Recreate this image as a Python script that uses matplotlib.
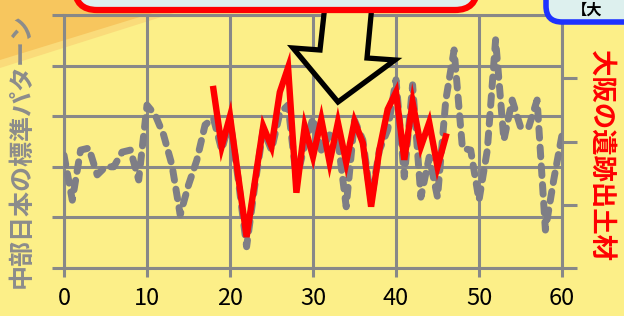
import matplotlib
matplotlib.use("Agg")
import matplotlib.pyplot as plt
from matplotlib.patches import Polygon, FancyBboxPatch

plt.rcParams['font.family'] = ['Noto Sans CJK JP', 'DejaVu Sans']

# ---- data ----
gray_years = list(range(0, 61))
gray_values = [2.23, 1.34, 2.33, 2.37, 1.84, 2.00, 2.00, 2.29, 2.33, 1.74,
               3.22, 3.02, 2.63, 2.04, 1.05, 1.64, 2.13, 2.83, 2.96, 2.33,
               2.92, 1.74, 0.42, 1.64, 2.73, 2.33, 3.06, 3.22, 1.74, 2.43,
               2.96, 2.33, 2.63, 2.53, 1.21, 2.92, 2.53, 1.34, 2.33, 2.73,
               3.72, 1.80, 3.62, 1.40, 2.19, 1.40, 3.32, 4.31, 2.37, 2.33,
               1.34, 2.33, 4.51, 2.53, 3.32, 2.79, 2.79, 3.32, 0.75, 1.74,
               2.63]
red_years = list(range(18, 47))
red_values = [2.83, 1.92, 2.40, 1.44, 0.49, 1.37, 2.24, 1.92, 2.78, 3.17,
              1.19, 2.24, 1.76, 2.35, 1.67, 2.30, 1.67, 2.32, 1.98, 0.97,
              1.87, 2.51, 2.78, 1.71, 2.62, 1.92, 2.30, 1.60, 2.08]
x_ticks = [0, 10, 20, 30, 40, 50, 60]
left_ticks = [0, 1, 2, 3, 4, 5]
right_ticks = [0, 1, 2, 3, 4]
left_label = "中部日本の標準パターン"
right_label = "大阪の遺跡出土材"

W, H = 624, 316
YELLOW = '#FCEF88'
GRID = '#888888'
GRAY_LINE = '#7E7E86'

fig = plt.figure(figsize=(W / 100, H / 100), dpi=100)
fig.patch.set_facecolor(YELLOW)

# background decoration axes (pixel coords)
bg = fig.add_axes([0, 0, 1, 1], zorder=-5)
bg.set_xlim(0, W)
bg.set_ylim(H, 0)
bg.axis('off')
bg.add_patch(Polygon([(0, 0), (215, 0), (0, 68)], closed=True,
                     facecolor='#FADB7A', edgecolor='none'))
bg.add_patch(Polygon([(0, 0), (195, 0), (0, 60)], closed=True,
                     facecolor='#F7C65E', edgecolor='none'))

# main axes
ax = fig.add_axes([64 / W, 1 - 268 / H, (562 - 64) / W, (268 - 15) / H], zorder=1)
ax.patch.set_visible(False)
ax.set_xlim(0, 60)
ax.set_ylim(0, 5)
ax.set_xticks(x_ticks)
ax.set_yticks(left_ticks)
ax.set_yticklabels([])
ax.grid(True, color=GRID, lw=2.2)
for s in ax.spines.values():
    s.set_color(GRID)
    s.set_linewidth(2.2)
ax.tick_params(axis='x', length=6.5, width=2.2, color=GRID, labelsize=17,
               labelcolor='black', pad=7)
ax.tick_params(axis='y', length=8.6, width=2.2, color=GRID)
ax.set_axisbelow(True)

ax.plot(gray_years, gray_values, color=GRAY_LINE, lw=5, dashes=(1.4, 1.3),
        dash_capstyle='round', solid_joinstyle='round', zorder=3)

ax2 = ax.twinx()
ax2.set_ylim(0, 4)
ax2.set_yticks(right_ticks)
ax2.set_yticklabels([])
for s in ax2.spines.values():
    s.set_visible(False)
ax2.tick_params(axis='y', length=10.8, width=2.2, color=GRID)
ax2.plot(red_years, red_values, color='#FF0000', lw=4.6,
         solid_joinstyle='miter', zorder=4)

fig.text(22 / W, 1 - 150 / H, left_label, rotation=90, ha='center', va='center',
         fontsize=18, fontweight='bold', color='#8C8C8C')
fig.text(600 / W, 1 - 155 / H, right_label, rotation=-90, ha='center', va='center',
         fontsize=19, fontweight='bold', color='#FF0000')

# overlay decorations (pixel coords)
ov = fig.add_axes([0, 0, 1, 1], zorder=10)
ov.set_xlim(0, W)
ov.set_ylim(H, 0)
ov.axis('off')
ov.patch.set_visible(False)
ov.add_patch(Polygon([(325, 5), (320, 50), (293, 48), (338, 102), (395, 60),
                      (367, 58), (372, 5)], closed=True, facecolor=YELLOW,
                     edgecolor='black', lw=3.8, joinstyle='miter'))
ov.add_patch(FancyBboxPatch((75, -40), 402, 50,
                            boxstyle='round,pad=0,rounding_size=22',
                            facecolor='#DDF0EE', edgecolor='#FF0000', lw=4.5))
ov.add_patch(FancyBboxPatch((546, -40), 120, 62,
                            boxstyle='round,pad=0,rounding_size=16',
                            facecolor='#DDF0EE', edgecolor='#1E32FF', lw=4.0))
ov.text(572, 18, "【大", fontsize=11, fontweight='bold', color='black',
        ha='left', va='bottom')

fig.savefig('out.png', dpi=100, facecolor=fig.get_facecolor())
